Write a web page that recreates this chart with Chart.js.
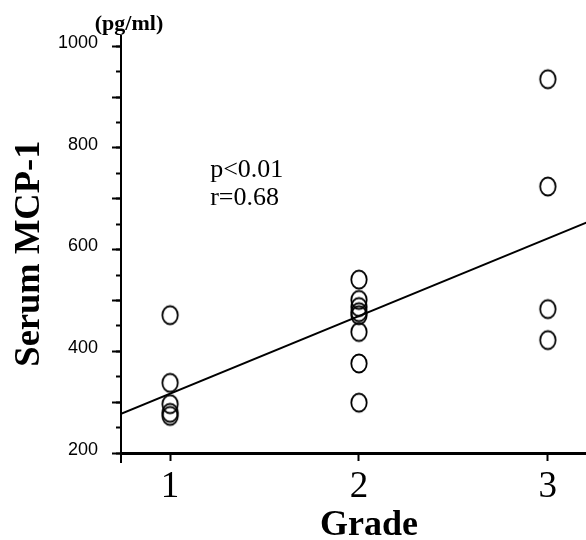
<!DOCTYPE html>
<html>
<head>
<meta charset="utf-8">
<script src="https://cdn.jsdelivr.net/npm/chart.js@4"></script>
<style>
  html, body { margin: 0; padding: 0; background: #ffffff; overflow: hidden; }
  #wrap { width: 586px; height: 540px; overflow: hidden; position: relative; }
  #c { position: absolute; left: 0; top: 0; }
</style>
</head>
<body>
<div id="wrap"><canvas id="c" width="627" height="540"></canvas></div>
<script>
// ---- data ----
const gradeTicks = [1, 2, 3];
const grade1Values = [471, 338, 296, 279, 273];
const grade2Values = [541, 501, 487, 477, 471, 438, 376, 299];
const grade3Values = [935, 724, 483, 422];
const yTickLabels = [200, 400, 600, 800, 1000];
const fitX = [0.74, 3.21];
const fitY = [277, 654];
const statTexts = ['p<0.01', 'r=0.68'];
const unitText = '(pg/ml)';
const yTitle = 'Serum MCP-1';
const xTitle = 'Grade';

// ---- build points ----
const points = [];
grade1Values.forEach(v => points.push({x: gradeTicks[0], y: v}));
grade2Values.forEach(v => points.push({x: gradeTicks[1], y: v}));
grade3Values.forEach(v => points.push({x: gradeTicks[2], y: v}));

// open ellipse marker
const marker = document.createElement('canvas');
marker.width = 20; marker.height = 23;
(function () {
  const m = marker.getContext('2d');
  m.strokeStyle = '#000';
  m.lineWidth = 1.8;
  m.beginPath();
  m.ellipse(10, 11.5, 7.7, 9.0, 0, 0, Math.PI * 2);
  m.stroke();
})();

const annot = {
  id: 'annot',
  afterDraw(chart) {
    const ctx = chart.ctx;
    const xs = chart.scales.x, ys = chart.scales.y;
    ctx.save();
    ctx.fillStyle = '#000';
    ctx.textBaseline = 'alphabetic';
    ctx.font = 'bold 22px "Liberation Serif", "Times New Roman", serif';
    ctx.textAlign = 'center';
    ctx.fillText(unitText, chart.chartArea.left + 8, chart.chartArea.top - 6);
    ctx.font = '26px "Liberation Serif", "Times New Roman", serif';
    ctx.textAlign = 'left';
    ctx.fillText(statTexts[0], xs.getPixelForValue(1.212), ys.getPixelForValue(743));
    ctx.fillText(statTexts[1], xs.getPixelForValue(1.212), ys.getPixelForValue(688));
    // y axis extension below the x axis
    ctx.strokeStyle = '#000';
    ctx.lineWidth = 2;
    ctx.beginPath();
    ctx.moveTo(chart.chartArea.left, chart.chartArea.bottom);
    ctx.lineTo(chart.chartArea.left, chart.chartArea.bottom + 10);
    ctx.stroke();
    ctx.restore();
  }
};

new Chart(document.getElementById('c'), {
  type: 'scatter',
  data: {
    datasets: [
      {
        type: 'scatter',
        data: points,
        pointStyle: marker,
        pointRadius: 9,
        pointHoverRadius: 9,
        backgroundColor: 'rgba(0,0,0,0)',
        borderColor: '#000',
        yAxisID: 'y',
        order: 1
      },
      {
        type: 'line',
        data: fitX.map((x, i) => ({x: x, y: fitY[i]})),
        borderColor: '#000',
        borderWidth: 2,
        pointRadius: 0,
        fill: false,
        yAxisID: 'y',
        order: 2
      }
    ]
  },
  options: {
    responsive: false,
    animation: false,
    devicePixelRatio: 1,
    layout: { padding: { left: 0, top: 36, right: 0, bottom: 0 } },
    plugins: { legend: { display: false }, tooltip: { enabled: false } },
    scales: {
      x: {
        type: 'linear',
        position: 'bottom',
        min: 0.74,
        max: 3.366,
        afterBuildTicks: s => { s.ticks = gradeTicks.map(v => ({value: v})); },
        afterFit: s => { s.height = 87; },
        ticks: {
          color: '#000',
          padding: 4,
          font: { family: '"Liberation Serif", "Times New Roman", serif', size: 37 },
          callback: v => String(v)
        },
        grid: { drawOnChartArea: false, tickLength: 8, tickWidth: 2, tickColor: '#000' },
        border: { display: true, color: '#000', width: 3 },
        title: {
          display: true,
          text: xTitle,
          color: '#000',
          padding: 0,
          font: { family: '"Liberation Serif", "Times New Roman", serif', size: 36, weight: 'bold', lineHeight: 0.8 }
        }
      },
      y: {
        type: 'linear',
        position: 'left',
        weight: 0,
        min: 200,
        max: 1020,
        afterFit: s => { s.width = 0; },
        ticks: { display: false, stepSize: 50, includeBounds: false },
        grid: { drawOnChartArea: false, tickLength: 5, tickWidth: 2, tickColor: '#000' },
        border: { display: true, color: '#000', width: 2 }
      },
      y2: {
        type: 'linear',
        position: 'left',
        weight: 1,
        min: 200,
        max: 1020,
        afterFit: s => { s.width = 121; },
        ticks: {
          stepSize: 100,
          includeBounds: false,
          color: '#000',
          padding: 14,
          font: { family: '"Liberation Sans", Arial, sans-serif', size: 18, lineHeight: 0.35 },
          callback: v => yTickLabels.includes(v) ? [String(v), ''] : ''
        },
        grid: { drawOnChartArea: false, tickLength: 9, tickWidth: 2, tickColor: '#000' },
        border: { display: true, color: '#000', width: 2 },
        title: {
          display: true,
          text: yTitle + '  ',
          color: '#000',
          padding: { top: 8, bottom: 0 },
          font: { family: '"Liberation Serif", "Times New Roman", serif', size: 36.5, weight: 'bold', lineHeight: 1.2 }
        }
      }
    }
  },
  plugins: [annot]
});
</script>
</body>
</html>
